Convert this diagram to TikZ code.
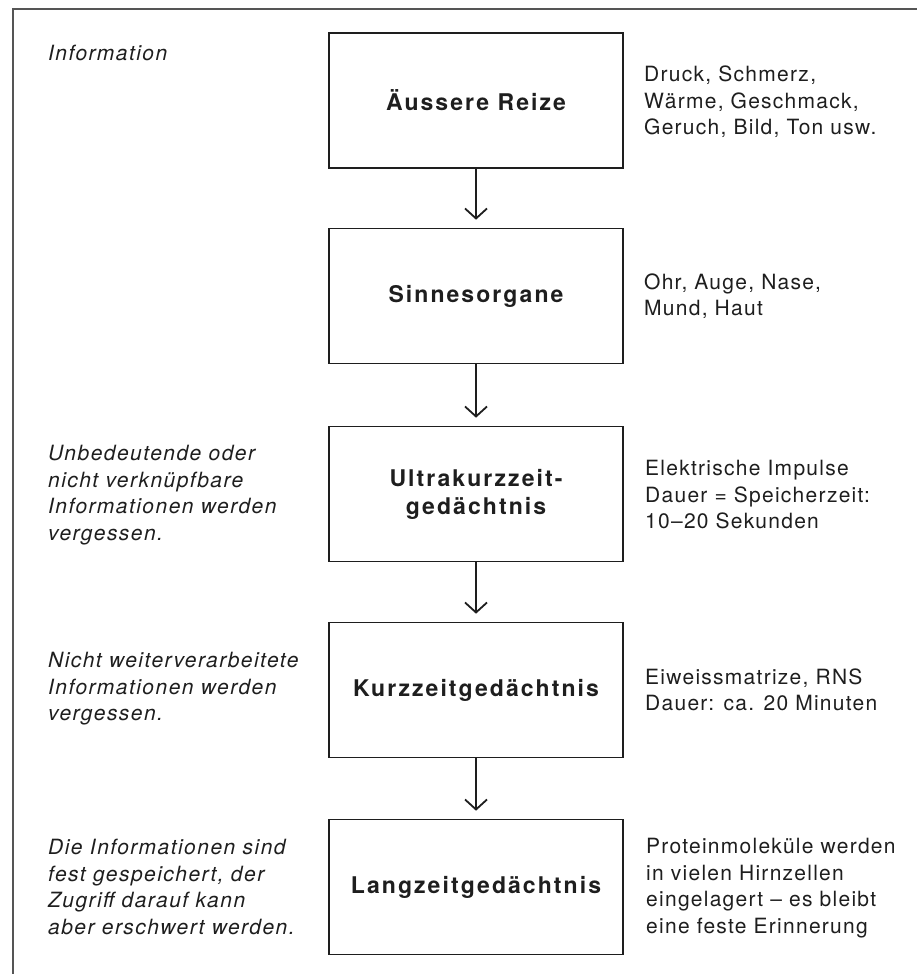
\documentclass[tikz,border=0pt]{standalone}
\usepackage{fontspec}
\setmainfont{TeX Gyre Heros}[LetterSpace=6]
\newfontfamily\boxfont{TeX Gyre Heros}[LetterSpace=9]
\newfontfamily\notefont{TeX Gyre Heros}[LetterSpace=7]
\usetikzlibrary{arrows.meta}
\definecolor{ink}{HTML}{1E1E1E}
\definecolor{framegray}{HTML}{555555}
\tikzset{
  box/.style={draw=ink, line width=1.6pt, minimum width=294pt, minimum height=135pt,
    inner sep=0pt, align=center, text=ink, font=\boxfont\bfseries\fontsize{23}{28}\selectfont},
  rtext/.style={anchor=west, align=left, inner sep=0pt, text=ink, font=\fontsize{21}{26.5}\selectfont},
  ltext/.style={anchor=west, align=left, inner sep=0pt, text=ink, font=\notefont\itshape\fontsize{21}{26.5}\selectfont},
  arr/.style={draw=ink, line width=1.8pt, shorten >=8pt, -{Straight Barb[length=10pt,width=22pt,line width=1.8pt]}},
  frameline/.style={draw=framegray, line width=1.8pt}
}
\begin{document}
\begin{tikzpicture}[x=1pt,y=-1pt]
\useasboundingbox (0,0) rectangle (917,974);
\coordinate (fr1) at (917,9);
\coordinate (fr2) at (13,9);
\coordinate (fr3) at (13,974);
\draw[frameline] (fr1) -- (fr2) -- (fr3);

\node[box] (b1) at (476,100.5) {Äussere Reize};
\node[box] (b2) at (476,296) {Sinnesorgane};
\node[box] (b3) at (476,494) {Ultrakurzzeit-\\gedächtnis};
\node[box] (b4) at (476,690) {Kurzzeitgedächtnis};
\node[box] (b5) at (476,887) {Langzeitgedächtnis};

\draw[arr] (b1.south) -- (b2.north);
\draw[arr] (b2.south) -- (b3.north);
\draw[arr] (b3.south) -- (b4.north);
\draw[arr] (b4.south) -- (b5.north);

\node[ltext] (l1) at (48,53) {Information};
\node[ltext] (l3) at (48,495) {Unbedeutende oder\\nicht verknüpfbare\\Informationen werden\\vergessen.};
\node[ltext] (l4) at (48,689) {Nicht weiterverarbeitete\\Informationen werden\\vergessen.};
\node[ltext] (l5) at (48,887) {Die Informationen sind\\fest gespeichert, der\\Zugriff darauf kann\\aber erschwert werden.};

\node[rtext] (r1) at (644,102) {Druck, Schmerz,\\Wärme, Geschmack,\\Geruch, Bild, Ton usw.};
\node[rtext] (r2) at (644,296) {Ohr, Auge, Nase,\\Mund, Haut};
\node[rtext] (r3) at (645,495) {Elektrische Impulse\\Dauer = Speicherzeit:\\10–20 Sekunden};
\node[rtext] (r4) at (645,690) {Eiweissmatrize, RNS\\Dauer: ca. 20 Minuten};
\node[rtext] (r5) at (646,888) {Proteinmoleküle werden\\in vielen Hirnzellen\\eingelagert – es bleibt\\eine feste Erinnerung};
\end{tikzpicture}
\end{document}
